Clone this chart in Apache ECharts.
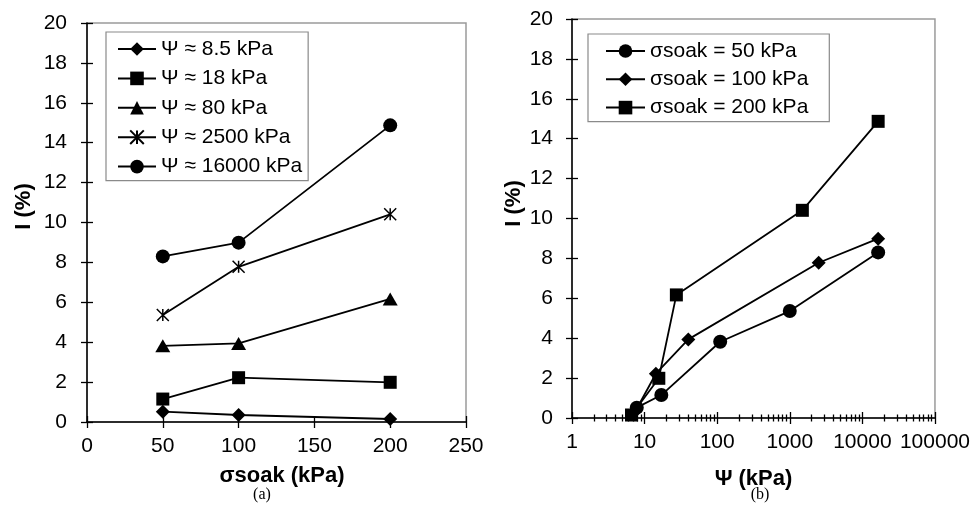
<!DOCTYPE html>
<html><head><meta charset="utf-8">
<script src="https://cdn.jsdelivr.net/npm/echarts@6/dist/echarts.min.js"></script>
<style>html,body{margin:0;padding:0;background:#fff}#c{width:973px;height:507px}</style>
</head><body><div id="c"></div>
<script>
// ---------- data : chart (a) ----------
const sigmaSoak = [50, 100, 200];
const seriesNamesA = ['Ψ ≈ 8.5 kPa', 'Ψ ≈ 18 kPa', 'Ψ ≈ 80 kPa', 'Ψ ≈ 2500 kPa', 'Ψ ≈ 16000 kPa'];
const I_psi8_5  = [0.52, 0.35, 0.15];
const I_psi18   = [1.15, 2.22, 1.99];
const I_psi80   = [3.82, 3.94, 6.17];
const I_psi2500 = [5.36, 7.78, 10.41];
const I_psi16000 = [8.30, 8.99, 14.87];

// ---------- data : chart (b) ----------
const seriesNamesB = ['σsoak = 50 kPa', 'σsoak = 100 kPa', 'σsoak = 200 kPa'];
const psi_s50  = [7.8, 17, 110, 1000, 16500];
const I_s50    = [0.52, 1.15, 3.82, 5.36, 8.30];
const psi_s100 = [7.5, 14.3, 40, 2500, 16500];
const I_s100   = [0.35, 2.22, 3.94, 7.78, 8.99];
const psi_s200 = [6.6, 15.7, 27.4, 1490, 16500];
const I_s200   = [0.15, 1.99, 6.17, 10.41, 14.87];

// ---------- tick labels ----------
const yTicks  = [0, 2, 4, 6, 8, 10, 12, 14, 16, 18, 20];
const xTicksA = [0, 50, 100, 150, 200, 250];
const xTicksB = [1, 10, 100, 1000, 10000, 100000];

// ---------- styling ----------
const FONT = '"Liberation Sans", Arial, sans-serif';
const BLACK = '#000';
const LINE_W = 1.8;
const asteriskPath = 'path://M0,0 L10,10 M10,0 L0,10 M5,0 L5,10';

const minorB = [];
for (let i = 0; i < xTicksB.length - 1; i++) {
  for (let m = 2; m <= 9; m++) minorB.push(xTicksB[i] * m);
}

const yBase = {
  type: 'value', min: yTicks[0], max: yTicks[yTicks.length - 1], interval: yTicks[1] - yTicks[0],
  position: 'left', splitLine: { show: false }
};
const xBaseA = {
  type: 'value', min: xTicksA[0], max: xTicksA[xTicksA.length - 1], interval: xTicksA[1] - xTicksA[0],
  position: 'bottom', splitLine: { show: false }
};
const xBaseB = {
  type: 'log', logBase: 10, min: xTicksB[0], max: xTicksB[xTicksB.length - 1],
  position: 'bottom', splitLine: { show: false }
};

const labelStyle = { show: true, fontSize: 21, color: BLACK, fontFamily: FONT };

function mainAxis(base, gridIndex, extra) {
  return Object.assign({}, base, {
    gridIndex: gridIndex,
    axisLine: { show: true, onZero: false, lineStyle: { color: BLACK, width: 1.5 } },
    axisTick: { show: true, inside: false, length: 6, lineStyle: { color: BLACK, width: 1.3 } },
    axisLabel: labelStyle,
    nameLocation: 'middle'
  }, extra);
}
function tickAxis(base, gridIndex, inside, len, customValues) {
  const tick = { show: true, inside: inside, length: len, lineStyle: { color: BLACK, width: 1.3 } };
  if (customValues) tick.customValues = customValues;
  return Object.assign({}, base, {
    gridIndex: gridIndex,
    axisLine: { show: false, onZero: false },
    axisLabel: { show: false },
    axisTick: tick
  });
}

const nameStyle = { fontSize: 22, fontWeight: 'bold', color: BLACK, fontFamily: FONT };

const xAxes = [
  // grid 0
  mainAxis(xBaseA, 0, {
    name: 'σsoak (kPa)', nameGap: 43,
    nameTextStyle: Object.assign({}, nameStyle, { padding: [0, 0, 0, 11] }),
    axisLabel: Object.assign({}, labelStyle, { margin: 14 })
  }),
  tickAxis(xBaseA, 0, true, 6),
  // grid 1
  mainAxis(xBaseB, 1, {
    name: 'Ψ (kPa)', nameGap: 50, nameTextStyle: nameStyle,
    axisTick: { show: true, inside: false, length: 6, lineStyle: { color: BLACK, width: 1.3 }, customValues: xTicksB },
    axisLabel: Object.assign({}, labelStyle, { margin: 14, customValues: xTicksB,
      formatter: v => String(Math.round(v)) })
  }),
  tickAxis(xBaseB, 1, true, 6, xTicksB),
  tickAxis(xBaseB, 1, false, 3.5, minorB),
  tickAxis(xBaseB, 1, true, 3.5, minorB)
];

const yAxes = [
  mainAxis(yBase, 0, {
    name: 'I (%)', nameGap: 52,
    nameTextStyle: Object.assign({}, nameStyle, { padding: [0, 0, 0, 32] }),
    axisLabel: Object.assign({}, labelStyle, { margin: 20 })
  }),
  tickAxis(yBase, 0, true, 6),
  mainAxis(yBase, 1, {
    name: 'I (%)', nameGap: 47,
    nameTextStyle: Object.assign({}, nameStyle, { padding: [0, 0, 0, 30] }),
    axisLabel: Object.assign({}, labelStyle, { margin: 19 })
  }),
  tickAxis(yBase, 1, true, 6)
];

function lineSeries(name, xi, yi, xs, ys, symbol, size, extraItem) {
  return {
    type: 'line', name: name, xAxisIndex: xi, yAxisIndex: yi,
    data: xs.map((x, i) => [x, ys[i]]),
    symbol: symbol, symbolSize: size, showSymbol: true,
    color: BLACK,
    lineStyle: { color: BLACK, width: LINE_W },
    itemStyle: Object.assign({ color: BLACK }, extraItem || {}),
    emphasis: { disabled: true },
    z: 3
  };
}

const series = [
  lineSeries(seriesNamesA[0], 0, 0, sigmaSoak, I_psi8_5, 'diamond', 14),
  lineSeries(seriesNamesA[1], 0, 0, sigmaSoak, I_psi18, 'rect', 13),
  lineSeries(seriesNamesA[2], 0, 0, sigmaSoak, I_psi80, 'triangle', [15, 13]),
  lineSeries(seriesNamesA[3], 0, 0, sigmaSoak, I_psi2500, asteriskPath, 12, { borderColor: BLACK, borderWidth: 1.5 }),
  lineSeries(seriesNamesA[4], 0, 0, sigmaSoak, I_psi16000, 'circle', 14),
  lineSeries(seriesNamesB[0], 2, 2, psi_s50, I_s50, 'circle', 14),
  lineSeries(seriesNamesB[1], 2, 2, psi_s100, I_s100, 'diamond', 14),
  lineSeries(seriesNamesB[2], 2, 2, psi_s200, I_s200, 'rect', 13)
];

const legendText = { fontSize: 21, color: BLACK, fontFamily: FONT, lineHeight: 22 };

const option = {
  backgroundColor: '#fff',
  animation: false,
  grid: [
    { left: 87, top: 23, width: 379, height: 399, show: true, borderColor: '#9a9a9a', borderWidth: 1.5, backgroundColor: 'transparent' },
    { left: 572, top: 19, width: 364, height: 399, show: true, borderColor: '#9a9a9a', borderWidth: 1.5, backgroundColor: 'transparent' }
  ],
  xAxis: xAxes,
  yAxis: yAxes,
  legend: [
    { data: seriesNamesA, orient: 'vertical', left: 106, top: 32, itemWidth: 38, itemHeight: 17, itemGap: 7.4,
      padding: [6, 6, 3, 11], borderColor: '#8a8a8a', borderWidth: 1.2, textStyle: legendText, selectedMode: false },
    { data: seriesNamesB, orient: 'vertical', left: 588, top: 34, itemWidth: 39, itemHeight: 17, itemGap: 6.3,
      padding: [6, 21, 3, 17], borderColor: '#8a8a8a', borderWidth: 1.2, textStyle: legendText, selectedMode: false }
  ],
  graphic: [
    { type: 'text', x: 262, y: 495, style: { text: '(a)', font: '16px "Liberation Serif", "Times New Roman", serif', align: 'center', verticalAlign: 'middle', fill: BLACK } },
    { type: 'text', x: 760, y: 495, style: { text: '(b)', font: '16px "Liberation Serif", "Times New Roman", serif', align: 'center', verticalAlign: 'middle', fill: BLACK } }
  ],
  series: series
};

const chart = echarts.init(document.getElementById('c'), null, { renderer: 'canvas' });
chart.setOption(option);
</script>
</body></html>
